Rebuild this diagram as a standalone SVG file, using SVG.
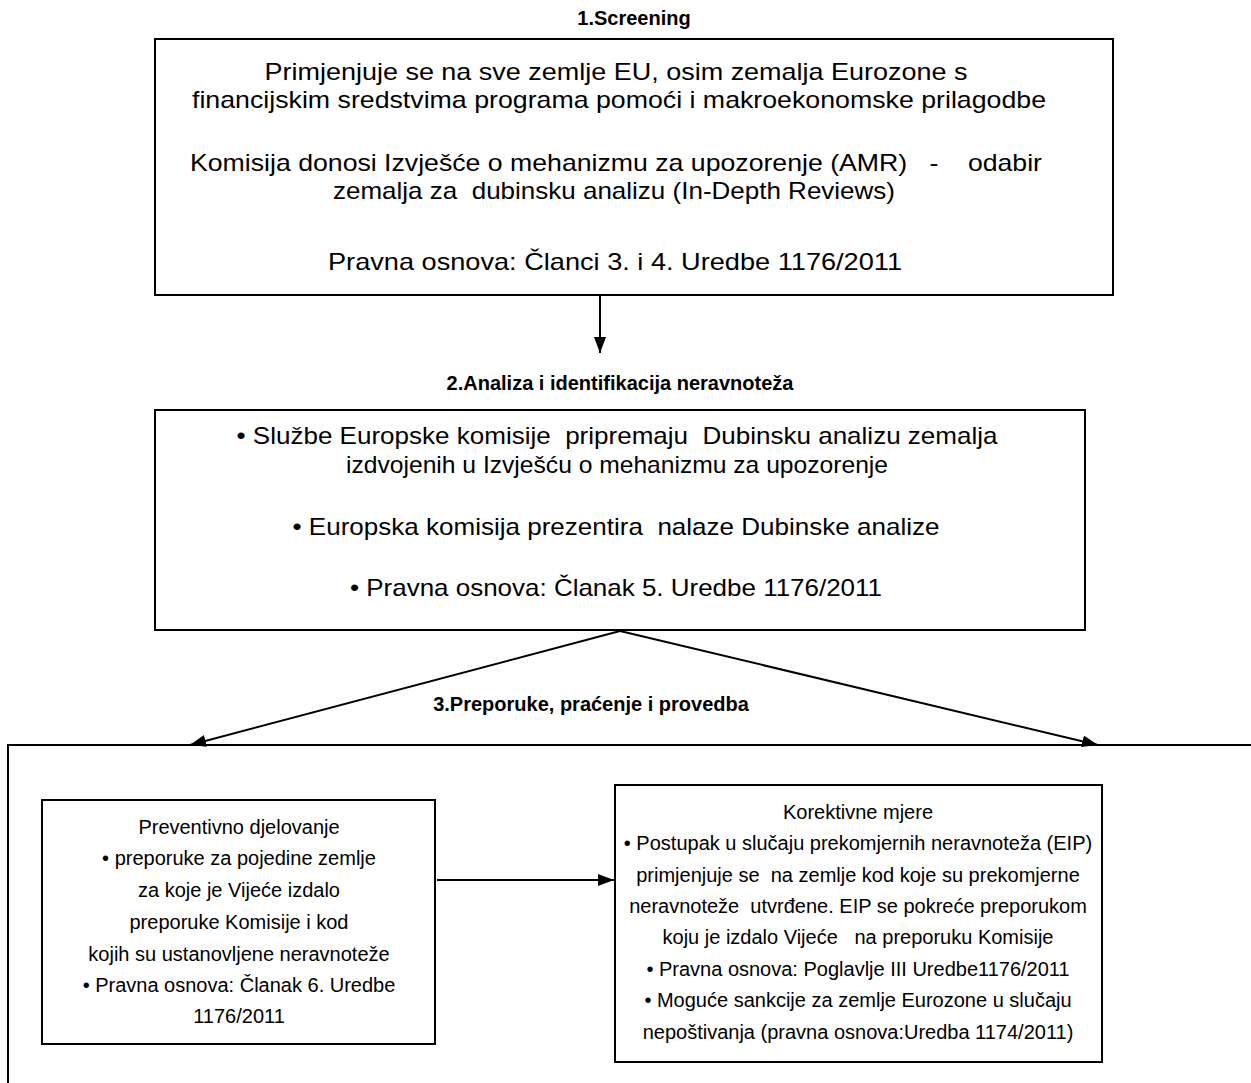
<svg xmlns="http://www.w3.org/2000/svg" width="1251" height="1083" viewBox="0 0 1251 1083">
<defs>
<marker id="ahb" viewBox="0 0 16 12" refX="16" refY="6" markerWidth="16" markerHeight="12" markerUnits="userSpaceOnUse" orient="auto"><path d="M0,0 L16,6 L0,12 z" fill="#000"/></marker>
<style>
.box{fill:#fff;stroke:#000;stroke-width:2}
text{white-space:pre}
.t{font-family:"Liberation Sans",Arial,sans-serif;font-size:24px;fill:#000;text-anchor:middle}
.h{font-family:"Liberation Sans",Arial,sans-serif;font-size:20px;font-weight:bold;fill:#000;text-anchor:middle}
.n{font-family:"Liberation Sans",Arial,sans-serif;font-size:20px;fill:#000;text-anchor:middle}
.c{stroke:#000;stroke-width:2;fill:none}
</style>
</defs>
<rect width="1251" height="1083" fill="#fff"/>
<g id="frame3">
<path class="c" d="M1251,745 L8,745 L8,1083"/>
<text class="h" x="591" y="711">3.Preporuke, praćenje i provedba</text>
</g>
<g id="node1">
<text class="h" x="634" y="25">1.Screening</text>
<rect class="box" x="155" y="39" width="958" height="256"/>
<text class="t" x="616" y="80" textLength="703" lengthAdjust="spacingAndGlyphs">Primjenjuje se na sve zemlje EU, osim zemalja Eurozone s</text>
<text class="t" x="619" y="108" textLength="854" lengthAdjust="spacingAndGlyphs">financijskim sredstvima programa pomoći i makroekonomske prilagodbe</text>
<text class="t" x="616" y="171" textLength="852" lengthAdjust="spacingAndGlyphs">Komisija donosi Izvješće o mehanizmu za upozorenje (AMR)   -    odabir</text>
<text class="t" x="614" y="199" textLength="562" lengthAdjust="spacingAndGlyphs">zemalja za  dubinsku analizu (In-Depth Reviews)</text>
<text class="t" x="615" y="270" textLength="574" lengthAdjust="spacingAndGlyphs">Pravna osnova: Članci 3. i 4. Uredbe 1176/2011</text>
</g>
<g id="node2">
<text class="h" x="620" y="390">2.Analiza i identifikacija neravnoteža</text>
<rect class="box" x="155" y="410" width="930" height="220"/>
<text class="t" x="617" y="444" textLength="761" lengthAdjust="spacingAndGlyphs">• Službe Europske komisije  pripremaju  Dubinsku analizu zemalja</text>
<text class="t" x="617" y="473" textLength="542" lengthAdjust="spacingAndGlyphs">izdvojenih u Izvješću o mehanizmu za upozorenje</text>
<text class="t" x="616" y="535" textLength="647" lengthAdjust="spacingAndGlyphs">• Europska komisija prezentira  nalaze Dubinske analize</text>
<text class="t" x="616" y="596" textLength="532" lengthAdjust="spacingAndGlyphs">• Pravna osnova: Članak 5. Uredbe 1176/2011</text>
</g>
<g id="node3">
<rect class="box" x="42" y="800" width="393" height="244"/>
<text class="n" x="239" y="834">Preventivno djelovanje</text>
<text class="n" x="239" y="865">• preporuke za pojedine zemlje</text>
<text class="n" x="239" y="897">za koje je Vijeće izdalo</text>
<text class="n" x="239" y="929">preporuke Komisije i kod</text>
<text class="n" x="239" y="961">kojih su ustanovljene neravnoteže</text>
<text class="n" x="239" y="992">• Pravna osnova: Članak 6. Uredbe</text>
<text class="n" x="239" y="1023">1176/2011</text>
</g>
<g id="node4">
<rect class="box" x="615" y="785" width="487" height="277"/>
<text class="n" x="858" y="819">Korektivne mjere</text>
<text class="n" x="858" y="850">• Postupak u slučaju prekomjernih neravnoteža (EIP)</text>
<text class="n" x="858" y="882">primjenjuje se  na zemlje kod koje su prekomjerne</text>
<text class="n" x="858" y="913">neravnoteže  utvrđene. EIP se pokreće preporukom</text>
<text class="n" x="858" y="944">koju je izdalo Vijeće   na preporuku Komisije</text>
<text class="n" x="858" y="976">• Pravna osnova: Poglavlje III Uredbe1176/2011</text>
<text class="n" x="858" y="1007">• Moguće sankcije za zemlje Eurozone u slučaju</text>
<text class="n" x="858" y="1039">nepoštivanja (pravna osnova:Uredba 1174/2011)</text>
</g>
<g id="connectors">
<line class="c" x1="600" y1="295" x2="600" y2="353" marker-end="url(#ahb)"/>
<line class="c" x1="620" y1="631" x2="190" y2="745" marker-end="url(#ahb)"/>
<line class="c" x1="620" y1="631" x2="1098" y2="745" marker-end="url(#ahb)"/>
<line class="c" x1="437" y1="880" x2="614" y2="880" marker-end="url(#ahb)"/>
</g>
</svg>
